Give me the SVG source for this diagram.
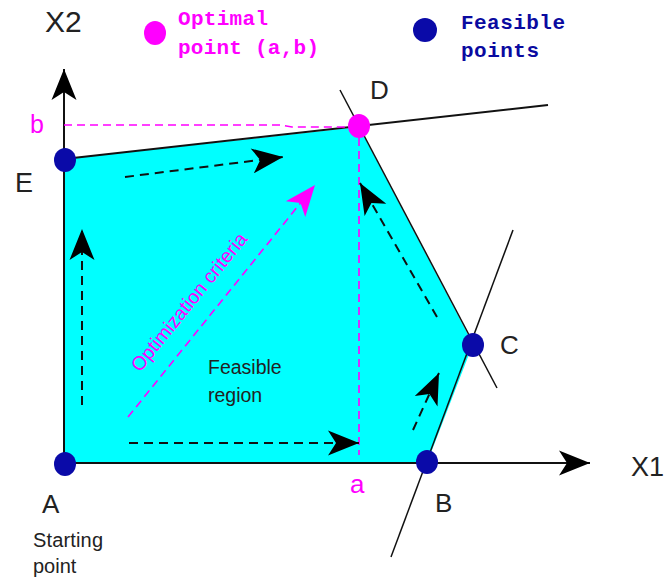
<svg xmlns="http://www.w3.org/2000/svg" width="666" height="581" viewBox="0 0 666 581">
<style>
.lbl{font-family:"Liberation Sans",Arial,sans-serif;fill:#222;}
.mag{font-family:"Liberation Sans",Arial,sans-serif;fill:#ff00ff;}
.mono{font-family:"Liberation Mono","Courier New",monospace;font-weight:bold;font-size:21px;}
.ax{stroke:#111;stroke-width:2;fill:none;}
.thin{stroke:#111;stroke-width:1.5;fill:none;}
.dash{stroke:#111;stroke-width:2;stroke-dasharray:9 6;fill:none;}
.mdash{stroke:#ff00ff;stroke-width:1.6;stroke-dasharray:8 5;fill:none;}
.fp{fill:#0a0aa8;}
.op{fill:#ff00ff;}
</style>
<defs>
<marker id="ah" markerUnits="userSpaceOnUse" viewBox="-32 -14 33 28" refX="0" refY="0" markerWidth="33" markerHeight="28" orient="auto">
<path d="M0,0 L-31,-12.5 L-23,0 L-31,12.5 Z" fill="#000"/>
</marker>
<marker id="ahm" markerUnits="userSpaceOnUse" viewBox="-32 -14 33 28" refX="0" refY="0" markerWidth="33" markerHeight="28" orient="auto">
<path d="M0,0 L-31,-12.5 L-23,0 L-31,12.5 Z" fill="#ff00ff"/>
</marker>
</defs>
<rect width="666" height="581" fill="#fff"/>

<g id="feasible-region">
<polygon points="64,463 427,463 473,344 359,127 64,159" fill="#00ffff"/>
<text class="lbl" x="208" y="374" font-size="19.5">Feasible</text>
<text class="lbl" x="208" y="402" font-size="19.5">region</text>
</g>

<g id="axes">
<line class="ax" x1="64" y1="463" x2="64" y2="69" marker-end="url(#ah)"/>
<line class="ax" x1="64" y1="463" x2="590" y2="463" marker-end="url(#ah)"/>
<text class="lbl" x="45" y="32" font-size="30">X2</text>
<text class="lbl" x="631" y="476" font-size="27">X1</text>
</g>

<g id="constraints">
<line class="ax" x1="64" y1="159" x2="548" y2="105"/>
<line class="thin" x1="340" y1="90" x2="497" y2="388"/>
<line class="thin" x1="513" y1="230" x2="391" y2="557"/>
</g>

<g id="optimal-guides">
<polyline class="mdash" points="64,125 280,125 292,127 350,127"/>
<line class="mdash" x1="359" y1="138" x2="359" y2="455"/>
<text class="mag" x="30" y="133" font-size="25">b</text>
<text class="mag" x="350" y="493" font-size="26">a</text>
</g>

<g id="connectors">
<line class="dash" x1="82" y1="405" x2="82" y2="229" marker-end="url(#ah)"/>
<line class="dash" x1="125" y1="177" x2="283" y2="157" marker-end="url(#ah)"/>
<line class="dash" x1="129" y1="443" x2="359" y2="443" marker-end="url(#ah)"/>
<line class="dash" x1="413" y1="430" x2="439" y2="373" marker-end="url(#ah)"/>
<line class="dash" x1="437" y1="317" x2="360" y2="183" marker-end="url(#ah)"/>
<line class="mdash" x1="128" y1="417" x2="315" y2="185" marker-end="url(#ahm)"/>
<text class="mag" transform="translate(140,373) rotate(-51)" font-size="19.5" textLength="172" lengthAdjust="spacingAndGlyphs">Optimization criteria</text>
</g>

<g id="node-A">
<ellipse class="fp" cx="65" cy="464" rx="11" ry="12"/>
<text class="lbl" x="42" y="513" font-size="26">A</text>
<text class="lbl" x="33" y="547" font-size="20" textLength="70">Starting</text>
<text class="lbl" x="33" y="573" font-size="20">point</text>
</g>
<g id="node-B">
<ellipse class="fp" cx="427" cy="462" rx="11" ry="12"/>
<text class="lbl" x="435" y="512" font-size="26">B</text>
</g>
<g id="node-C">
<ellipse class="fp" cx="473" cy="345" rx="11" ry="12"/>
<text class="lbl" x="500" y="354" font-size="26">C</text>
</g>
<g id="node-D">
<ellipse class="op" cx="359" cy="126" rx="11" ry="12"/>
<text class="lbl" x="370" y="99" font-size="26">D</text>
</g>
<g id="node-E">
<ellipse class="fp" cx="65" cy="160" rx="11" ry="12"/>
<text class="lbl" x="15" y="192" font-size="27">E</text>
</g>

<g id="legend">
<ellipse class="op" cx="155" cy="33" rx="11" ry="12"/>
<text class="mono" x="178" y="25" fill="#ff00ff" textLength="90">Optimal</text>
<text class="mono" x="178" y="54" fill="#ff00ff" textLength="141">point (a,b)</text>
<ellipse class="fp" cx="425" cy="30" rx="12" ry="12"/>
<text class="mono" x="461" y="29" fill="#0a0aa0" textLength="104">Feasible</text>
<text class="mono" x="461" y="57" fill="#0a0aa0" textLength="78">points</text>
</g>
</svg>
